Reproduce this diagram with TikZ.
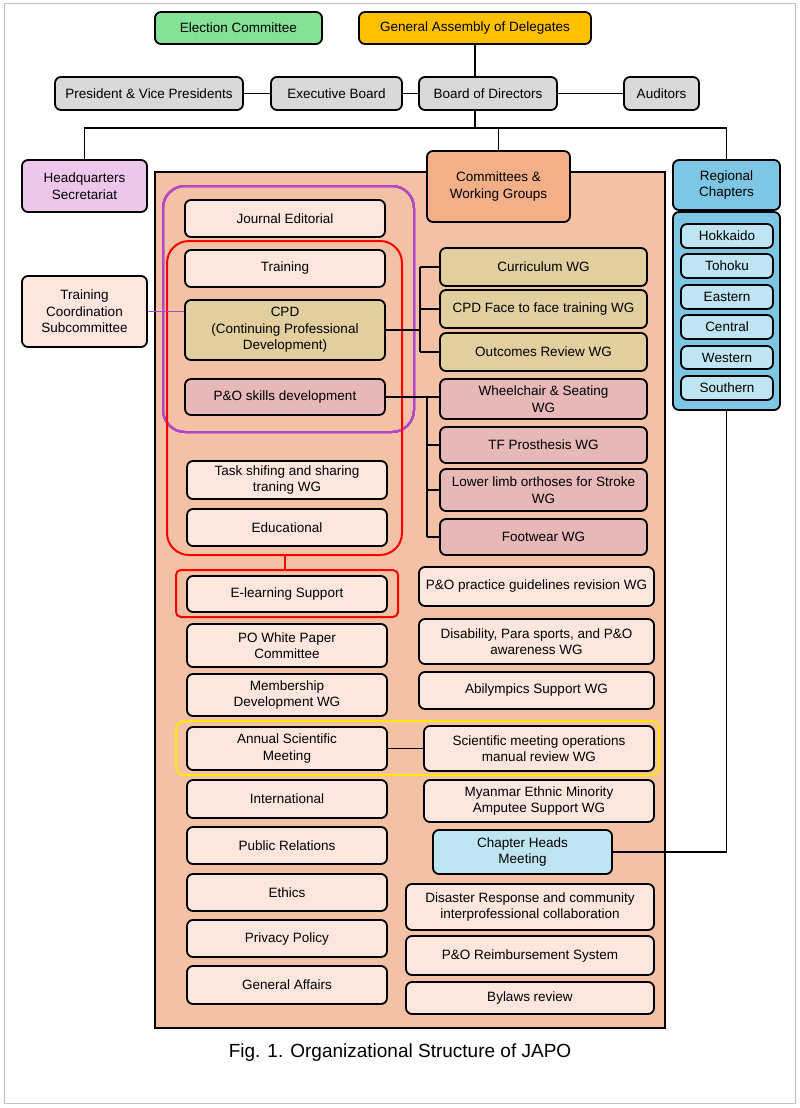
\documentclass[tikz,border=0pt]{standalone}
\usepackage{fontspec}
\setmainfont{Liberation Sans}
\usetikzlibrary{calc,positioning}
\definecolor{elecgreen}{HTML}{84E196}
\definecolor{assembly}{HTML}{FFC000}
\definecolor{boardgrey}{HTML}{D9D9D9}
\definecolor{hqpink}{HTML}{EDC6EC}
\definecolor{bigpeach}{HTML}{F3C1A5}
\definecolor{cwgorange}{HTML}{F2AF88}
\definecolor{regblue}{HTML}{7DC6E4}
\definecolor{lightblue}{HTML}{BFE5F3}
\definecolor{palepeach}{HTML}{FCE6DD}
\definecolor{cpdtan}{HTML}{E2CF9F}
\definecolor{skillrose}{HTML}{E6B8B7}
\definecolor{ringpurple}{HTML}{B048C8}
\newcommand{\orgbox}[7]{%
  \node[orgbox,fill=#6,minimum width={#4pt-#2pt},minimum height={#5pt-#3pt}]
    (#1) at ({(#2+#4)/2},{(#3+#5)/2}) {#7};}
\begin{document}
\begin{tikzpicture}[x=1pt,y=-1pt,
  orgbox/.style={draw,line width=1.8pt,rounded corners=6pt,inner sep=1pt,align=center,
    font=\fontsize{13.5}{16.5}\selectfont},
  link/.style={line width=1.6pt},
  ring/.style={line width=2pt,rounded corners=22pt}]
\useasboundingbox (0,0) rectangle (800,1108);
\draw[gray!50,line width=1pt] (4,4) rectangle (795,1103);
% top levels
\orgbox{elec}{155}{12}{322}{44}{elecgreen}{Election Committee}
\orgbox{ga}{359}{12}{591}{44}{assembly}{General Assembly of Delegates}
\orgbox{pvp}{55}{77}{243}{110}{boardgrey}{President \& Vice Presidents}
\orgbox{exb}{271}{77}{402}{110}{boardgrey}{Executive Board}
\orgbox{bod}{419}{77}{557}{110}{boardgrey}{Board of Directors}
\orgbox{aud}{624}{77}{699}{110}{boardgrey}{Auditors}
\draw[link] (ga.south) -- (ga.south |- bod.north);
\draw[link] (pvp) -- (exb) -- (bod) -- (aud);
% main frame
\draw[line width=1.8pt,fill=bigpeach] (155,172) rectangle (665,1028);
\orgbox{hq}{22}{160}{147}{212}{hqpink}{Headquarters\\Secretariat}
\orgbox{cwg}{427}{151}{570}{222}{cwgorange}{Committees \&\\Working Groups}
\orgbox{reg}{673}{160}{780}{210}{regblue}{Regional\\Chapters}
\coordinate (split) at (475,128);
\draw[link] (ga.south |- bod.south) -- (split);
\draw[link] (hq.north) |- (split) -| (reg.north);
\draw[link] (split -| cwg.north) -- (cwg.north);
% regional chapters
\orgbox{chap}{673}{212}{780}{410}{regblue}{}
\foreach \name/\ya/\yb in {Hokkaido/224/248,Tohoku/254/278,Eastern/285/309,
  Central/315/339,Western/346/369,Southern/376/400}
  \orgbox{\name}{681}{\ya}{773}{\yb}{lightblue}{\name}
% groups rings
\draw[ring,ringpurple] (163,186) rectangle (414,432);
\draw[ring,red] (167,241) rectangle (402,555);
\draw[line width=2pt,red,rounded corners=5pt] (176,570) rectangle (398,617);
\draw[line width=2pt,yellow!90!orange,rounded corners=8pt] (176,721) rectangle (659,775);
% left column
\orgbox{tcs}{22}{276}{147}{347}{palepeach}{Training\\Coordination\\Subcommittee}
\orgbox{jed}{185}{200}{385}{237}{palepeach}{Journal Editorial}
\orgbox{trn}{185}{250}{385}{287}{palepeach}{Training}
\orgbox{cpd}{185}{300}{385}{360}{cpdtan}{CPD\\(Continuing Professional\\Development)}
\orgbox{pos}{185}{379}{385}{415}{skillrose}{P\&O skills development}
\orgbox{tsk}{187}{461}{387}{499}{palepeach}{Task shifing and sharing\\traning WG}
\orgbox{edu}{187}{509}{387}{546}{palepeach}{Educational}
\orgbox{elr}{187}{576}{387}{612}{palepeach}{E-learning Support}
\orgbox{pow}{187}{624}{387}{667}{palepeach}{PO White Paper\\Committee}
\orgbox{mem}{187}{674}{387}{716}{palepeach}{Membership\\Development WG}
\orgbox{asm}{187}{727}{387}{770}{palepeach}{Annual Scientific\\Meeting}
\orgbox{int}{187}{780}{387}{818}{palepeach}{International}
\orgbox{pub}{187}{827}{387}{864}{palepeach}{Public Relations}
\orgbox{eth}{187}{874}{387}{911}{palepeach}{Ethics}
\orgbox{pri}{187}{920}{387}{957}{palepeach}{Privacy Policy}
\orgbox{gen}{187}{966}{387}{1004}{palepeach}{General Affairs}
% right column
\orgbox{cur}{440}{248}{647}{286}{cpdtan}{Curriculum WG}
\orgbox{ftf}{440}{290}{647}{328}{cpdtan}{CPD Face to face training WG}
\orgbox{out}{440}{333}{647}{371}{cpdtan}{Outcomes Review WG}
\orgbox{whl}{440}{379}{647}{419}{skillrose}{Wheelchair \& Seating\\WG}
\orgbox{tfp}{440}{427}{647}{463}{skillrose}{TF Prosthesis WG}
\orgbox{llo}{440}{469}{647}{511}{skillrose}{Lower limb orthoses for Stroke\\WG}
\orgbox{ftw}{440}{519}{647}{555}{skillrose}{Footwear WG}
\orgbox{gdl}{419}{567}{654}{606}{palepeach}{P\&O practice guidelines revision WG}
\orgbox{dis}{419}{619}{654}{664}{palepeach}{Disability, Para sports, and P\&O\\awareness WG}
\orgbox{abl}{419}{672}{654}{709}{palepeach}{Abilympics Support WG}
\orgbox{smm}{424}{726}{654}{771}{palepeach}{Scientific meeting operations\\manual review WG}
\orgbox{mya}{424}{780}{654}{822}{palepeach}{Myanmar Ethnic Minority\\Amputee Support WG}
\orgbox{chm}{433}{830}{612}{874}{lightblue}{Chapter Heads\\Meeting}
\orgbox{dsr}{406}{884}{654}{930}{palepeach}{Disaster Response and community\\interprofessional collaboration}
\orgbox{rmb}{406}{936}{654}{975}{palepeach}{P\&O Reimbursement System}
\orgbox{byl}{406}{982}{654}{1014}{palepeach}{Bylaws review}
% connectors
\coordinate (cpdbus) at (420,330);
\draw[link] (cpd.east) -- (cpdbus);
\foreach \n in {cur,ftf,out} \draw[link] (cpdbus |- \n.west) -- (\n.west);
\draw[link] (cpdbus |- cur.west) -- (cpdbus |- out.west);
\coordinate (posbus) at (427,397);
\draw[link] (pos.east) -- (whl.west |- pos.east);
\foreach \n in {tfp,llo,ftw} \draw[link] (posbus |- \n.west) -- (\n.west);
\draw[link] (posbus) -- (posbus |- ftw.west);
\draw[line width=1.5pt,ringpurple] (tcs.east) -- (cpd.west |- tcs.east);
\draw[line width=1.8pt,red] (285,555) -- (285,570);
\draw[link] (asm) -- (smm);
\draw[link] (chap.south) |- (chm.east);
\node[font=\fontsize{19}{22}\selectfont] (cap) at (400,1053) {Fig. 1. Organizational Structure of JAPO};
\end{tikzpicture}
\end{document}
